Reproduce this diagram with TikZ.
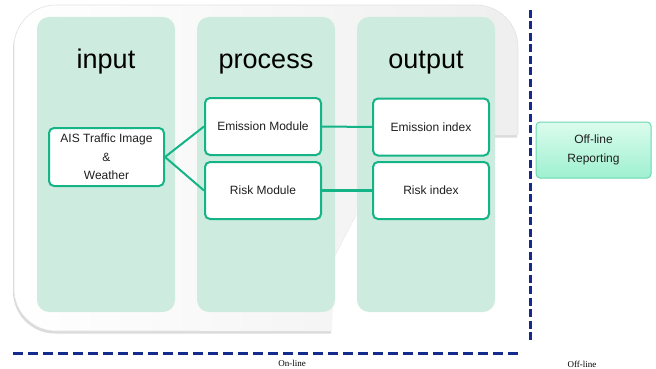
\documentclass[tikz,border=0pt]{standalone}
\usepackage{fontspec}
\setmainfont{Liberation Sans}
\newfontfamily\serifsmall{Liberation Serif}
\usetikzlibrary{calc}

\definecolor{mint}{HTML}{CDEBDE}
\definecolor{boxline}{HTML}{14B487}
\definecolor{navy}{HTML}{142A8C}
\definecolor{reptop}{HTML}{DCFCEE}
\definecolor{repbot}{HTML}{9EF0D0}
\definecolor{repline}{HTML}{6AD8B0}

\tikzset{
  column/.style={fill=mint, draw=none, rounded corners=12pt,
    minimum width=138pt, minimum height=295pt, inner sep=0pt},
  title/.style={font=\fontsize{27}{30}\selectfont, text=black, anchor=base},
  module/.style={draw=boxline, line width=2pt, fill=white, rounded corners=5pt,
    minimum width=116pt, minimum height=57pt, inner sep=0pt, align=center,
    font=\fontsize{12}{18.5}\selectfont, text=black!88},
  report/.style={draw=repline, line width=1pt, top color=reptop, bottom color=repbot,
    rounded corners=4pt, minimum width=115pt, minimum height=56pt, inner sep=0pt,
    align=center, font=\fontsize{12}{19}\selectfont, text=black!88},
  link/.style={draw=boxline, line width=2pt},
  divider/.style={draw=navy, line width=3pt},
  caption/.style={font=\serifsmall\fontsize{9}{10}\selectfont, text=black}
}

% outline of the rounded on-line frame
\def\framepath{(14,170) [rounded corners=42pt] -- (14,331) -- (200,331) [sharp corners]
  -- (332,331) -- (335,255) -- (357,213) -- (357,135) -- (518,135) -- (518,100)
  [rounded corners=42pt] -- (518,5) -- (14,5) -- (14,170) -- cycle}
% the visible rim: right, top and left sides
\def\rimpath{(518,135) [rounded corners=42pt] -- (518,5) -- (14,5) -- (14,331) -- (200,331)}

\begin{document}
\begin{tikzpicture}[x=1pt,y=-1pt]
  \useasboundingbox (0,0) rectangle (656,369);

  % frame with soft shadow
  \fill[gray!28] [shift={(-1,2.5)}] \framepath;
  \shade[left color=white, right color=gray!13] \framepath;
  \draw[gray!22, line width=0.6pt] \rimpath;

  % three columns
  \node[column] (colIn)   at (106,164.5) {};
  \node[column] (colProc) at (266,164.5) {};
  \node[column] (colOut)  at (426,164.5) {};

  \node[title] (tIn)   at (106,68.5) {input};
  \node[title] (tProc) at (266,68.5) {process};
  \node[title] (tOut)  at (426,68.5) {output};

  % boxes
  \node[module, minimum width=115pt, minimum height=58pt] (ais) at (106.5,157)
    {AIS Traffic Image\\\&\\Weather};
  \node[module] (emMod)  at (263,126.5) {Emission Module};
  \node[module] (riskMod) at (263,190.5) {Risk Module};
  \node[module] (emIdx)  at (431,127) {Emission index};
  \node[module] (riskIdx) at (431,190.5) {Risk index};
  \node[report] (rep) at (593.5,150) {Off-line\\Reporting};

  % connectors
  \draw[link] (ais.east) -- (emMod.west);
  \draw[link] (ais.east) -- (riskMod.west);
  \draw[link] (emMod.east) -- (emIdx.west);
  \draw[link, line width=3pt] (riskMod.east) -- (riskIdx.west);

  % on-line / off-line dividers
  \coordinate (vTop) at (530,10);
  \coordinate (vBot) at (530,343);
  \coordinate (hLeft) at (13,353);
  \coordinate (hRight) at (518,353);
  \draw[divider, dash pattern=on 8pt off 3.5pt] (vTop) -- (vBot);
  \draw[divider, dash pattern=on 10pt off 5pt] (hLeft) -- (hRight);

  \node[caption] (online) at (292,363) {On-line};
  \node[caption] (offline) at (582,364) {Off-line};
\end{tikzpicture}
\end{document}
